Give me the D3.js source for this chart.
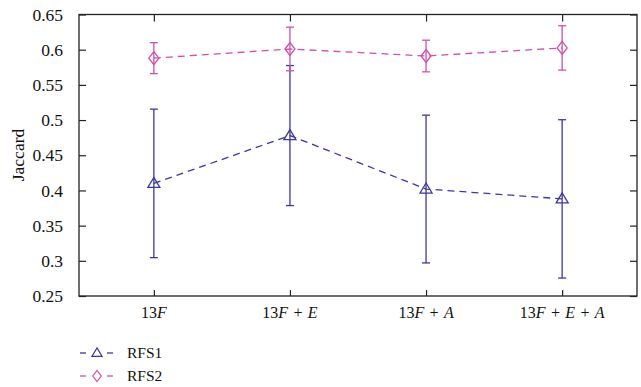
<!DOCTYPE html>
<html><head><meta charset="utf-8">
<script src="https://cdn.jsdelivr.net/npm/d3@7"></script>
<style>html,body{margin:0;padding:0;background:#fff;}svg{display:block;}</style>
</head><body>
<script>
const categories = ["13F", "13F + E", "13F + A", "13F + E + A"];
const rfs1 = [0.410, 0.478, 0.402, 0.388];
const rfs1Err = [0.1055, 0.0995, 0.105, 0.1125];
const rfs2 = [0.588, 0.601, 0.591, 0.6025];
const rfs2Err = [0.022, 0.031, 0.0225, 0.0315];
const yTicks = [0.25, 0.3, 0.35, 0.4, 0.45, 0.5, 0.55, 0.6, 0.65];
const yTickLabels = ["0.25", "0.3", "0.35", "0.4", "0.45", "0.5", "0.55", "0.6", "0.65"];
const seriesNames = ["RFS1", "RFS2"];

const W = 641, H = 387;
const L = 79, R = 637, T = 14.5, B = 296;
const colors = ["#3c379f", "#d04fab"];
const FONT = "Liberation Serif";

const svg = d3.select("body").append("svg").attr("width", W).attr("height", H)
  .attr("font-family", FONT);

const x = d3.scalePoint().domain(categories).range([L, R]).padding(0.55);
const y = d3.scaleLinear().domain([0.25, 0.65]).range([B, T]);

const axisG = svg.append("g");
const fmt = (d) => yTickLabels[yTicks.indexOf(d)];
const yAxis = axisG.append("g").attr("transform", `translate(${L},0)`)
  .call(d3.axisLeft(y).tickValues(yTicks).tickSize(-7).tickPadding(16).tickFormat(fmt));
const yAxisR = axisG.append("g").attr("transform", `translate(${R},0)`)
  .call(d3.axisRight(y).tickValues(yTicks).tickSize(-7).tickFormat(""));
const xAxis = axisG.append("g").attr("transform", `translate(0,${B})`)
  .call(d3.axisBottom(x).tickSize(-6).tickFormat(""));
const xAxisT = axisG.append("g").attr("transform", `translate(0,${T})`)
  .call(d3.axisTop(x).tickSize(-7).tickFormat(""));
[yAxis, yAxisR, xAxis, xAxisT].forEach(g => {
  g.attr("font-family", FONT);
  g.select(".domain").remove();
  g.selectAll("line").attr("stroke", "#222").attr("stroke-width", 1.2);
});
yAxis.selectAll("text").attr("font-family", FONT).attr("font-size", 17.5).attr("fill", "#111");

axisG.append("rect").attr("x", L).attr("y", T).attr("width", R - L).attr("height", B - T)
  .attr("fill", "none").attr("stroke", "#222").attr("stroke-width", 1.3);

categories.forEach(c => {
  const t = svg.append("text").attr("x", x(c)).attr("y", 318).attr("text-anchor", "middle")
    .attr("font-family", FONT).attr("font-size", 16).attr("fill", "#111");
  const parts = c.split(" ");
  parts.forEach((p, i) => {
    if (i > 0) t.append("tspan").attr("xml:space", "preserve").text("\u2004");
    const m = p.match(/^(\d*)([A-Z]*)$/);
    if (m) {
      if (m[1]) t.append("tspan").text(m[1]);
      if (m[2]) t.append("tspan").attr("font-style", "italic").text(m[2]);
    } else {
      t.append("tspan").text(p);
    }
  });
});

svg.append("text").attr("transform", `translate(24,155) rotate(-90)`)
  .attr("text-anchor", "middle").attr("font-family", FONT).attr("font-size", 17.5)
  .attr("fill", "#111").text("Jaccard");

const triangle = "M0,-6 L6,4 L-6,4 Z";
const diamond = "M0,-6.5 L5,0 L0,6.5 L-5,0 Z";
const shapes = [triangle, diamond];

const series = [
  { vals: rfs1, errs: rfs1Err },
  { vals: rfs2, errs: rfs2Err }
];

series.forEach((s, si) => {
  const g = svg.append("g");
  const col = colors[si];
  const data = categories.map((c, i) => ({ c, v: s.vals[i], e: s.errs[i] }));
  data.forEach(d => {
    const cx = x(d.c);
    g.append("line").attr("x1", cx).attr("x2", cx).attr("y1", y(d.v + d.e)).attr("y2", y(d.v - d.e))
      .attr("stroke", col).attr("stroke-width", 1.3);
    [d.v + d.e, d.v - d.e].forEach(v => {
      g.append("line").attr("x1", cx - 4).attr("x2", cx + 4).attr("y1", y(v)).attr("y2", y(v))
        .attr("stroke", col).attr("stroke-width", 1.3);
    });
  });
  g.append("path").datum(data)
    .attr("d", d3.line().x(d => x(d.c)).y(d => y(d.v)))
    .attr("fill", "none").attr("stroke", col).attr("stroke-width", 1.3)
    .attr("stroke-dasharray", "7,5");
  g.selectAll("path.m").data(data).join("path").attr("class", "m")
    .attr("d", shapes[si]).attr("transform", d => `translate(${x(d.c)},${y(d.v)})`)
    .attr("fill", "none").attr("stroke", col).attr("stroke-width", 1.3);
});

const legY = [353, 376];
seriesNames.forEach((n, i) => {
  const g = svg.append("g");
  const col = colors[i];
  g.append("line").attr("x1", 80).attr("x2", 86).attr("y1", legY[i]).attr("y2", legY[i])
    .attr("stroke", col).attr("stroke-width", 1.3);
  g.append("line").attr("x1", 107).attr("x2", 113).attr("y1", legY[i]).attr("y2", legY[i])
    .attr("stroke", col).attr("stroke-width", 1.3);
  g.append("path").attr("d", shapes[i]).attr("transform", `translate(97,${legY[i]}) scale(0.85)`)
    .attr("fill", "none").attr("stroke", col).attr("stroke-width", 1.4);
  g.append("text").attr("x", 127).attr("y", legY[i] + 5).attr("font-family", FONT)
    .attr("font-size", 15.5).attr("fill", "#111").text(n);
});
</script>
</body></html>
